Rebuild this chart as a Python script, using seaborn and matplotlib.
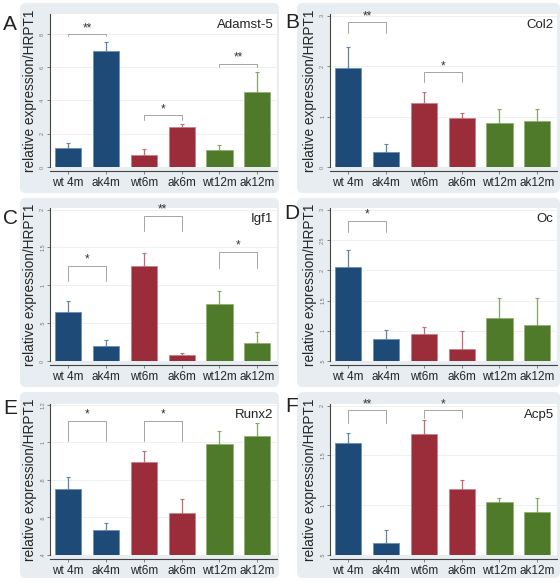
import matplotlib
matplotlib.use("Agg")
import matplotlib.pyplot as plt
from matplotlib.patches import FancyBboxPatch
import seaborn as sns
import pandas as pd

groups = ['wt 4m', 'ak4m', 'wt6m', 'ak6m', 'wt12m', 'ak12m']

# means and upper error bars
adamts5_mean = [1.15, 7.0, 0.7, 2.43, 1.03, 4.5]
adamts5_err = [0.28, 0.52, 0.37, 0.17, 0.28, 1.23]
col2_mean = [1.97, 0.30, 1.27, 0.97, 0.87, 0.91]
col2_err = [0.41, 0.15, 0.22, 0.10, 0.27, 0.23]
igf1_mean = [0.65, 0.20, 1.25, 0.08, 0.75, 0.24]
igf1_err = [0.14, 0.08, 0.17, 0.02, 0.18, 0.14]
oc_mean = [2.05, 0.87, 0.95, 0.70, 1.21, 1.09]
oc_err = [0.29, 0.14, 0.11, 0.29, 0.34, 0.46]
runx2_mean = [0.754, 0.533, 0.897, 0.623, 0.993, 1.034]
runx2_err = [0.062, 0.039, 0.057, 0.073, 0.069, 0.069]
acp5_mean = [1.623, 0.623, 1.72, 1.167, 1.033, 0.937]
acp5_err = [0.10, 0.124, 0.137, 0.083, 0.044, 0.14]

# significance brackets: (left bar, right bar, bracket height, leg bottom, stars)
adamts5_sig = [(0, 1, 8.0, 7.85, '**'), (2, 3, 3.12, 2.8, '*'), (4, 5, 6.2, 6.0, '**')]
col2_sig = [(0, 1, 2.87, 2.65, '**'), (2, 3, 1.88, 1.68, '*')]
igf1_sig = [(0, 1, 1.26, 1.05, '*'), (2, 3, 1.92, 1.71, '**'), (4, 5, 1.44, 1.23, '*')]
oc_sig = [(0, 1, 2.82, 2.63, '*')]
runx2_sig = [(0, 1, 1.115, 1.01, '*'), (2, 3, 1.115, 1.01, '*')]
acp5_sig = [(0, 1, 1.957, 1.823, '**'), (2, 3, 1.957, 1.877, '*')]

adamts5_ticks = [0, 2, 4, 6, 8]
col2_ticks = [0, 1, 2, 3]
igf1_ticks = [0, 0.5, 1, 1.5, 2]
oc_ticks = [0.5, 1, 1.5, 2, 2.5, 3]
runx2_ticks = [0.4, 0.6, 0.8, 1, 1.2]
acp5_ticks = [0.5, 1, 1.5, 2]

blue = '#1d4a77'
red = '#9b2d3b'
green = '#4e7a2a'
bar_colors = [blue, blue, red, red, green, green]
err_colors = ['#5f84ad', '#5f84ad', '#c06b75', '#c06b75', '#86a665', '#86a665']
edge_colors = ['#6d8fb5', '#6d8fb5', '#c98089', '#c98089', '#93b173', '#93b173']


def tick_text(v):
    s = f"{v:g}"
    if s.startswith("0."):
        s = s[1:]
    return s


panels = [
    ('A', 'Adamst-5', adamts5_mean, adamts5_err, adamts5_sig, adamts5_ticks, (0, 9.2)),
    ('B', 'Col2', col2_mean, col2_err, col2_sig, col2_ticks, (0, 3.03)),
    ('C', 'Igf1', igf1_mean, igf1_err, igf1_sig, igf1_ticks, (0, 2.02)),
    ('D', 'Oc', oc_mean, oc_err, oc_sig, oc_ticks, (0.5, 3.03)),
    ('E', 'Runx2', runx2_mean, runx2_err, runx2_sig, runx2_ticks, (0.4, 1.205)),
    ('F', 'Acp5', acp5_mean, acp5_err, acp5_sig, acp5_ticks, (0.5, 2.017)),
]

sns.set_style("white")
plt.rcParams['font.family'] = ['Liberation Sans', 'DejaVu Sans']

W, H = 560, 584
fig = plt.figure(figsize=(5.6, 5.84), dpi=100)
fig.patch.set_facecolor('white')

col_ax_left = [50, 330]
col_box = [(20, 279), (297, 560)]
row_ax = [(14, 167), (208, 361), (404, 555)]
row_box = [(3, 193), (198, 387), (392, 578)]
letter_pos = [(10, 24), (292, 22), (10, 219), (292, 213), (10, 409), (292, 406)]

for k, (letter, title, means, errs, sigs, ticks, ylim) in enumerate(panels):
    r, c = divmod(k, 2)
    bx0, bx1 = col_box[c]
    by0, by1 = row_box[r]
    fig.patches.append(FancyBboxPatch(
        (bx0 / W, 1 - by1 / H), (bx1 - bx0) / W, (by1 - by0) / H,
        boxstyle="round,pad=0,rounding_size=0.01", transform=fig.transFigure,
        facecolor='#e7edf0', edgecolor='none', zorder=-5))

    top, bot = row_ax[r]
    left = col_ax_left[c]
    ax = fig.add_axes([left / W, 1 - bot / H, 227 / W, (bot - top) / H])
    ax.set_facecolor('white')

    df = pd.DataFrame({'group': groups, 'value': means})
    sns.barplot(data=df, x='group', y='value', hue='group', palette=bar_colors,
                saturation=1, legend=False, errorbar=None, width=0.69, ax=ax,
                zorder=3)
    for p, ec in zip(ax.patches, edge_colors):
        p.set_edgecolor(ec)
        p.set_linewidth(0.6)

    for i, (m, e) in enumerate(zip(means, errs)):
        ax.errorbar(i, m, yerr=[[0], [e]], fmt='none', ecolor=err_colors[i],
                    elinewidth=0.9, capsize=1.5, capthick=0.8, zorder=2)

    for i0, i1, yt, yb, lab in sigs:
        ax.plot([i0, i0, i1, i1], [yb, yt, yt, yb], color='#a5a5a5', lw=0.7, zorder=4)
        ax.text((i0 + i1) / 2, yt, lab, ha='center', va='bottom', fontsize=8.5,
                color='#333333', zorder=5)

    ax.set_ylim(*ylim)
    ax.set_xlim(-0.48, 5.52)
    ax.set_yticks(ticks)
    ax.set_yticklabels([tick_text(t) for t in ticks], rotation=90, va='center',
                       fontsize=4, color='#777777')
    ax.yaxis.grid(True, color='#ececec', lw=0.6, zorder=0)
    ax.set_axisbelow(True)
    ax.tick_params(axis='y', length=2, width=0.5, color='#555555', pad=1.5, left=True)
    ax.tick_params(axis='x', length=2.5, width=0.5, color='#555555', pad=2,
                   labelsize=8.5, bottom=True)
    ax.set_xlabel('')
    ax.set_ylabel('relative expression/HRPT1', fontsize=9.8, labelpad=2)
    for s in ['top', 'right']:
        ax.spines[s].set_visible(False)
    for s in ['left', 'bottom']:
        ax.spines[s].set_color('#444444')
        ax.spines[s].set_linewidth(0.8)
    ax.spines['bottom'].set_position(('outward', 3))

    ax.text(0.985, 0.97, title, transform=ax.transAxes, ha='right', va='top',
            fontsize=9.5, color='#222222')

    lx, ly = letter_pos[k]
    fig.text(lx / W, 1 - ly / H, letter, ha='center', va='center', fontsize=15,
             color='#222222')

fig.savefig('out.png', dpi=100, facecolor='white')
